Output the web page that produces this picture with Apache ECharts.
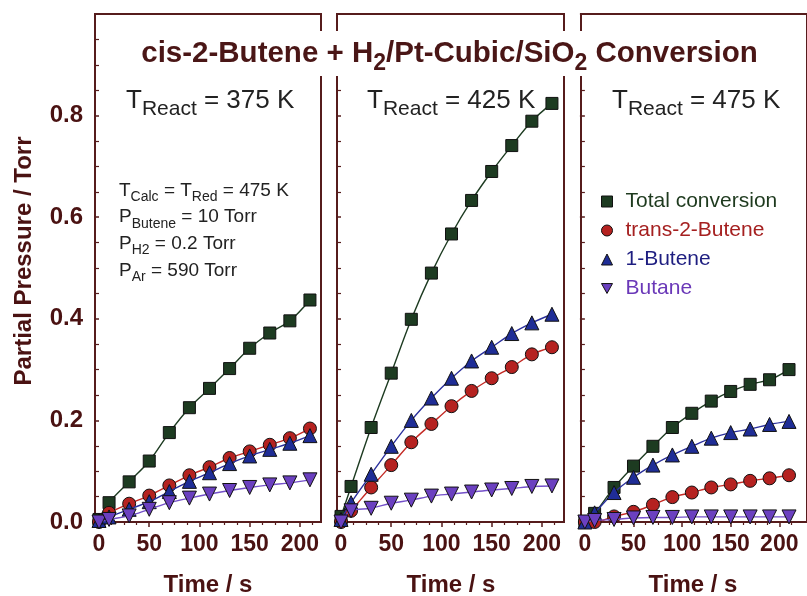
<!DOCTYPE html>
<html><head><meta charset="utf-8">
<script src="https://cdn.jsdelivr.net/npm/echarts@6/dist/echarts.min.js"></script>
<style>html,body{margin:0;padding:0;background:#fff}#c{width:807px;height:596px}</style>
</head><body><div id="c"></div>
<script>
// ---------------- data ----------------
const times = [0, 10, 30, 50, 70, 90, 110, 130, 150, 170, 190, 210];
const seriesNames = ['Total conversion', 'trans-2-Butene', '1-Butene', 'Butane'];
const panelTemps = ['375', '425', '475'];
const xTickValues = [0, 50, 100, 150, 200];
const xMinorTickValues = [12.5, 25, 37.5, 62.5, 75, 87.5, 112.5, 125, 137.5, 162.5, 175, 187.5, 212.5];

const total375  = [0.005, 0.038, 0.079, 0.120, 0.176, 0.225, 0.263, 0.302, 0.342, 0.372, 0.396, 0.437];
const trans375  = [0.000, 0.018, 0.036, 0.052, 0.072, 0.092, 0.108, 0.126, 0.139, 0.152, 0.165, 0.184];
const but1_375  = [0.003, 0.010, 0.025, 0.040, 0.060, 0.080, 0.097, 0.115, 0.130, 0.143, 0.155, 0.170];
const butane375 = [0.000, 0.005, 0.012, 0.025, 0.038, 0.047, 0.055, 0.062, 0.068, 0.073, 0.077, 0.083];

const total425  = [0.011, 0.070, 0.186, 0.293, 0.399, 0.490, 0.567, 0.633, 0.690, 0.741, 0.789, 0.824];
const trans425  = [0.000, 0.022, 0.068, 0.112, 0.157, 0.193, 0.228, 0.258, 0.283, 0.305, 0.330, 0.344];
const but1_425  = [0.005, 0.038, 0.094, 0.149, 0.200, 0.244, 0.283, 0.317, 0.344, 0.371, 0.392, 0.409];
const butane425 = [0.000, 0.022, 0.027, 0.037, 0.043, 0.051, 0.055, 0.059, 0.063, 0.066, 0.070, 0.071];

const total475  = [0.000, 0.017, 0.068, 0.110, 0.149, 0.186, 0.214, 0.238, 0.257, 0.271, 0.280, 0.300];
const trans475  = [0.000, 0.000, 0.011, 0.020, 0.034, 0.049, 0.058, 0.068, 0.074, 0.081, 0.086, 0.092];
const but1_475  = [0.000, 0.018, 0.058, 0.088, 0.112, 0.132, 0.149, 0.165, 0.176, 0.183, 0.192, 0.198];
const butane475 = [0.000, 0.003, 0.005, 0.008, 0.009, 0.009, 0.010, 0.010, 0.010, 0.010, 0.010, 0.010];

const panels = [
  [total375, trans375, but1_375, butane375],
  [total425, trans425, but1_425, butane425],
  [total475, trans475, but1_475, butane475]
];

// ---------------- styles ----------------
const FRAME = '#561c1c';
const LABEL = '#4a1212';
const FONT = '"Liberation Sans", Arial, Helvetica, sans-serif';
const styles = [
  { symbol: 'rect', size: 12, rotate: 0, fill: '#1d3b21', line: '#1d3b21', text: '#1e3a1e' },
  { symbol: 'circle', size: 13, rotate: 0, fill: '#b52220', line: '#c42a25', text: '#a52020' },
  { symbol: 'triangle', size: 14, rotate: 0, fill: '#1f2d96', line: '#2a2f9c', text: '#1e1e80' },
  { symbol: 'triangle', size: 14, rotate: 180, fill: '#6b40c0', line: '#7450c9', text: '#6a38b8' }
];
const legendIcons = ['rect', 'circle', 'triangle', 'path://M0,0 L10,0 L5,9 Z'];

const gridDefs = [
  { left: 95, top: 14, width: 226, height: 508 },
  { left: 337, top: 14, width: 227, height: 508 },
  { left: 581, top: 14, width: 234, height: 508 }
];

const grid = gridDefs.map(g => Object.assign({ show: true, borderColor: FRAME, borderWidth: 2, backgroundColor: 'transparent' }, g));

const xAxis = [];
const yAxis = [];
gridDefs.forEach((g, i) => {
  const xmax = i === 2 ? 228.5 : (i === 1 ? 222 : 221);
  xAxis.push({
    gridIndex: i, type: 'value', min: -4, max: xmax,
    axisLine: { show: false },
    splitLine: { show: false },
    axisTick: { show: true, customValues: xTickValues, length: 5, lineStyle: { color: FRAME, width: 1.5 } },
    axisLabel: { show: true, customValues: xTickValues, margin: 11, fontSize: 23, fontWeight: 'bold', color: LABEL, fontFamily: FONT }
  });
  yAxis.push({
    gridIndex: i, type: 'value', min: 0, max: 1, interval: 0.2,
    axisLine: { show: false },
    splitLine: { show: false },
    axisTick: { show: true, length: 5, lineStyle: { color: FRAME, width: 1.5 } },
    minorTick: { show: true, splitNumber: 4, length: 3, lineStyle: { color: FRAME, width: 1.2 } },
    axisLabel: {
      show: i === 0, margin: 12, fontSize: 24, fontWeight: 'bold', color: LABEL, fontFamily: FONT,
      formatter: v => (v > 0.99 ? '' : v.toFixed(1))
    }
  });
});
// minor x ticks on secondary axes
gridDefs.forEach((g, i) => {
  const xmax = i === 2 ? 228.5 : (i === 1 ? 222 : 221);
  xAxis.push({
    gridIndex: i, type: 'value', min: -4, max: xmax, position: 'bottom',
    axisLine: { show: false }, splitLine: { show: false },
    axisTick: { show: true, customValues: xMinorTickValues, length: 3, lineStyle: { color: FRAME, width: 1.2 } },
    axisLabel: { show: false }
  });
});

const series = [];
panels.forEach((sets, p) => {
  sets.forEach((vals, k) => {
    const st = styles[k];
    series.push({
      name: seriesNames[k], type: 'line', xAxisIndex: p, yAxisIndex: p,
      data: times.map((t, j) => [t, vals[j]]),
      smooth: 0.35, clip: false,
      symbol: st.symbol, symbolSize: st.size, symbolRotate: st.rotate,
      showSymbol: true,
      lineStyle: { color: st.line, width: 1.4 },
      itemStyle: { color: st.fill, borderColor: '#111', borderWidth: 1 },
      z: 3 + k,
      emphasis: { disabled: true }
    });
  });
});

function richText(text, mainSize, subSize, drop, color, weight) {
  return {
    text: text,
    fill: color,
    fontSize: mainSize, fontWeight: weight, fontFamily: FONT,
    rich: {
      m: { fontSize: mainSize, fontWeight: weight, fontFamily: FONT, fill: color, verticalAlign: 'top' },
      s: { fontSize: subSize, fontWeight: weight, fontFamily: FONT, fill: color, verticalAlign: 'top', padding: [drop, 0, 0, 0] }
    }
  };
}

const graphic = [];
// title background
graphic.push({ type: 'rect', shape: { x: 128, y: 31, width: 642, height: 45 }, style: { fill: '#fff' }, z: 100 });
graphic.push({
  type: 'text', x: 449.5, y: 39, z: 101,
  style: Object.assign(richText('{m|cis-2-Butene + H}{s|2}{m|/Pt-Cubic/SiO}{s|2}{m| Conversion}', 29.5, 23, 13, '#4a1616', 'bold'), { align: 'center', verticalAlign: 'top' })
});
// T React labels
const reactX = [126, 367, 612];
panelTemps.forEach((tt, i) => {
  graphic.push({
    type: 'text', x: reactX[i], y: 88, z: 101,
    style: Object.assign(richText('{m|T}{s|React}{m| = ' + tt + ' K}', 26, 21, 11, '#222', 'normal'), { align: 'left', verticalAlign: 'top' })
  });
});
// conditions
const condLines = [
  '{m|T}{s|Calc}{m| = T}{s|Red}{m| = 475 K}',
  '{m|P}{s|Butene}{m| = 10 Torr}',
  '{m|P}{s|H2}{m| = 0.2 Torr}',
  '{m|P}{s|Ar}{m| = 590 Torr}'
];
condLines.forEach((ln, i) => {
  graphic.push({
    type: 'text', x: 119, y: 181 + i * 26.7, z: 101,
    style: Object.assign(richText(ln, 19, 14, 9, '#222', 'normal'), { align: 'left', verticalAlign: 'top' })
  });
});
// axis titles
graphic.push({
  type: 'text', x: 24, y: 261, rotation: Math.PI / 2, z: 101,
  style: { text: 'Partial Pressure / Torr', fill: LABEL, fontSize: 24, fontWeight: 'bold', fontFamily: FONT, align: 'center', verticalAlign: 'middle' }
});
[208, 451, 693].forEach(cx => {
  graphic.push({
    type: 'text', x: cx, y: 585, z: 101,
    style: { text: 'Time / s', fill: LABEL, fontSize: 24, fontWeight: 'bold', fontFamily: FONT, align: 'center', verticalAlign: 'middle' }
  });
});

const option = {
  animation: false,
  backgroundColor: '#fff',
  grid, xAxis, yAxis, series, graphic,
  legend: {
    orient: 'vertical', left: 601, top: 191,
    itemWidth: 11, itemHeight: 11, itemGap: 8, padding: 0,
    selectedMode: false,
    data: seriesNames.map((n, k) => ({
      name: n, icon: legendIcons[k],
      itemStyle: { color: styles[k].fill, borderColor: '#111', borderWidth: 1 },
      textStyle: { color: styles[k].text, fontSize: 21, fontFamily: FONT, padding: [0, 0, 0, 8] }
    }))
  }
};
const chart = echarts.init(document.getElementById('c'), null, { renderer: 'canvas' });
chart.setOption(option);
</script>
</body></html>
